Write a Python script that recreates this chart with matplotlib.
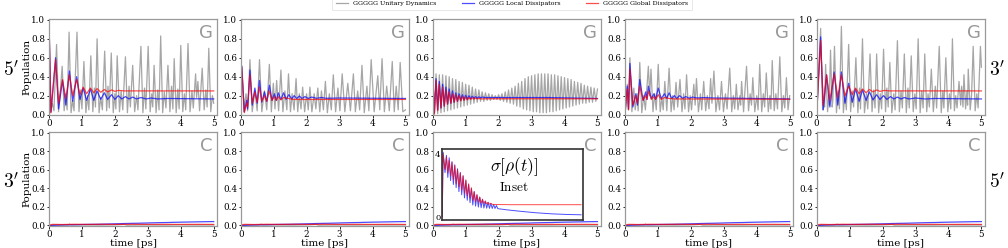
import numpy as np
import matplotlib
matplotlib.use('Agg')
import matplotlib.pyplot as plt
from matplotlib.lines import Line2D

plt.rcParams['font.family'] = ['DejaVu Serif']
plt.rcParams['mathtext.fontset'] = 'cm'

# ---- data (t [ps], population) ----
# top row, panel 1
unitary_1 = [(0.00, 1.00), (0.05, 0.02), (0.10, 0.12), (0.15, 0.04), (0.23, 0.74), (0.29, 0.03), (0.33, 0.18),
             (0.40, 0.51), (0.46, 0.04), (0.51, 0.22), (0.55, 0.05), (0.61, 0.87), (0.67, 0.02), (0.72, 0.15),
             (0.76, 0.04), (0.85, 0.87), (0.91, 0.03), (0.96, 0.26), (1.00, 0.06), (1.06, 0.56), (1.12, 0.02),
             (1.17, 0.20), (1.21, 0.05), (1.27, 0.62), (1.33, 0.03), (1.38, 0.28), (1.41, 0.08), (1.46, 0.80),
             (1.52, 0.02), (1.57, 0.18), (1.62, 0.05), (1.69, 0.67), (1.75, 0.04), (1.79, 0.30), (1.83, 0.07),
             (1.89, 0.65), (1.95, 0.02), (2.00, 0.22), (2.03, 0.06), (2.07, 0.62), (2.14, 0.03), (2.19, 0.25),
             (2.24, 0.05), (2.32, 0.61), (2.38, 0.02), (2.43, 0.30), (2.47, 0.08), (2.54, 0.52), (2.60, 0.03),
             (2.66, 0.20), (2.70, 0.05), (2.79, 0.72), (2.85, 0.02), (2.90, 0.28), (2.94, 0.06), (3.01, 0.72),
             (3.07, 0.03), (3.12, 0.22), (3.15, 0.08), (3.19, 0.52), (3.25, 0.02), (3.30, 0.26), (3.34, 0.05),
             (3.39, 0.83), (3.45, 0.02), (3.50, 0.24), (3.55, 0.07), (3.61, 0.52), (3.67, 0.03), (3.72, 0.30),
             (3.76, 0.06), (3.80, 0.59), (3.86, 0.02), (3.91, 0.27), (3.95, 0.06), (4.00, 0.73), (4.06, 0.03),
             (4.11, 0.22), (4.15, 0.05), (4.22, 0.75), (4.28, 0.03), (4.34, 0.25), (4.38, 0.07), (4.45, 0.43),
             (4.48, 0.18), (4.52, 0.35), (4.57, 0.04), (4.65, 0.49), (4.71, 0.05), (4.76, 0.26), (4.80, 0.08),
             (4.85, 0.70), (4.91, 0.03), (4.96, 0.20), (5.00, 0.12)]
local_1 = [(0.00, 1.00), (0.06, 0.03), (0.20, 0.60), (0.29, 0.06), (0.41, 0.36), (0.51, 0.10), (0.62, 0.46),
           (0.72, 0.14), (0.84, 0.40), (0.94, 0.16), (1.04, 0.28), (1.14, 0.15), (1.26, 0.27), (1.36, 0.15),
           (1.46, 0.25), (1.57, 0.16), (1.68, 0.23), (1.78, 0.16), (1.90, 0.21), (2.00, 0.16), (2.10, 0.20),
           (2.21, 0.165), (2.32, 0.19), (2.43, 0.165), (2.54, 0.185), (2.65, 0.165), (2.79, 0.18),
           (2.95, 0.165), (3.10, 0.175), (3.30, 0.165), (3.60, 0.17), (5.00, 0.165)]
global_1 = [(0.00, 1.00), (0.06, 0.02), (0.20, 0.58), (0.29, 0.12), (0.41, 0.37), (0.51, 0.17), (0.62, 0.42),
            (0.72, 0.20), (0.84, 0.37), (0.94, 0.21), (1.04, 0.29), (1.14, 0.22), (1.26, 0.28), (1.36, 0.23),
            (1.46, 0.275), (1.57, 0.235), (1.68, 0.265), (1.78, 0.24), (1.90, 0.26), (2.00, 0.245),
            (2.10, 0.255), (2.30, 0.25), (5.00, 0.25)]

# top row, panel 2
unitary_2 = [(0.00, 0.45), (0.04, 0.51), (0.10, 0.03), (0.16, 0.22), (0.21, 0.04), (0.28, 0.58), (0.35, 0.03),
             (0.43, 0.25), (0.50, 0.04), (0.57, 0.58), (0.64, 0.03), (0.72, 0.25), (0.79, 0.05), (0.87, 0.53),
             (0.93, 0.03), (0.99, 0.33), (1.04, 0.06), (1.09, 0.36), (1.15, 0.04), (1.22, 0.47), (1.28, 0.03),
             (1.34, 0.25), (1.40, 0.05), (1.45, 0.43), (1.51, 0.03), (1.56, 0.22), (1.62, 0.05), (1.68, 0.38),
             (1.73, 0.03), (1.78, 0.22), (1.83, 0.06), (1.88, 0.29), (1.94, 0.03), (2.00, 0.22), (2.05, 0.05),
             (2.10, 0.29), (2.16, 0.03), (2.23, 0.22), (2.28, 0.06), (2.34, 0.28), (2.40, 0.03), (2.45, 0.25),
             (2.51, 0.05), (2.57, 0.35), (2.63, 0.02), (2.69, 0.22), (2.75, 0.05), (2.81, 0.42), (2.88, 0.03),
             (2.95, 0.28), (3.01, 0.04), (3.08, 0.43), (3.16, 0.03), (3.25, 0.33), (3.33, 0.04), (3.42, 0.43),
             (3.48, 0.03), (3.55, 0.25), (3.61, 0.05), (3.68, 0.52), (3.75, 0.02), (3.83, 0.30), (3.89, 0.04),
             (3.96, 0.58), (4.05, 0.03), (4.16, 0.41), (4.22, 0.05), (4.29, 0.59), (4.36, 0.03), (4.43, 0.30),
             (4.51, 0.04), (4.60, 0.56), (4.66, 0.03), (4.72, 0.30), (4.78, 0.05), (4.84, 0.55), (4.92, 0.03),
             (5.00, 0.05)]
local_2 = [(0.00, 0.45), (0.03, 0.51), (0.11, 0.03), (0.18, 0.15), (0.21, 0.06), (0.28, 0.47), (0.35, 0.10),
           (0.43, 0.28), (0.50, 0.12), (0.57, 0.36), (0.64, 0.13), (0.72, 0.24), (0.79, 0.14), (0.87, 0.31),
           (0.95, 0.15), (1.02, 0.22), (1.08, 0.15), (1.14, 0.23), (1.22, 0.16), (1.30, 0.23), (1.38, 0.16),
           (1.46, 0.21), (1.55, 0.165), (1.62, 0.20), (1.70, 0.17), (1.78, 0.195), (1.86, 0.17), (1.95, 0.19),
           (2.05, 0.17), (2.15, 0.185), (2.30, 0.172), (2.45, 0.18), (2.60, 0.172), (3.00, 0.175), (5.00, 0.17)]
global_2 = [(0.00, 0.45), (0.03, 0.49), (0.11, 0.02), (0.18, 0.12), (0.21, 0.08), (0.28, 0.42), (0.35, 0.12),
            (0.43, 0.24), (0.50, 0.13), (0.57, 0.29), (0.64, 0.14), (0.72, 0.20), (0.79, 0.14), (0.87, 0.25),
            (0.95, 0.15), (1.02, 0.19), (1.08, 0.15), (1.14, 0.19), (1.22, 0.155), (1.30, 0.18), (1.60, 0.16),
            (5.00, 0.16)]

# top row, panel 3 (fast oscillation: maxima and minima)
unitary_3_max = [(0.0, 0.43), (0.1, 0.43), (0.2, 0.42), (0.3, 0.42), (0.4, 0.41), (0.5, 0.40), (0.6, 0.38),
                 (0.7, 0.37), (0.8, 0.35), (0.9, 0.34), (1.0, 0.32), (1.1, 0.31), (1.2, 0.29), (1.3, 0.27),
                 (1.4, 0.26), (1.5, 0.24), (1.6, 0.23), (1.7, 0.22), (1.8, 0.21), (1.9, 0.20), (2.0, 0.21),
                 (2.1, 0.22), (2.2, 0.24), (2.3, 0.26), (2.4, 0.28), (2.5, 0.30), (2.6, 0.33), (2.7, 0.35),
                 (2.8, 0.38), (2.9, 0.40), (3.0, 0.41), (3.1, 0.42), (3.2, 0.43), (3.3, 0.43), (3.4, 0.43),
                 (3.5, 0.43), (3.6, 0.42), (3.7, 0.42), (3.8, 0.41), (3.9, 0.40), (4.0, 0.39), (4.1, 0.38),
                 (4.2, 0.37), (4.3, 0.35), (4.4, 0.34), (4.5, 0.33), (4.6, 0.31), (4.7, 0.30), (4.8, 0.29),
                 (4.9, 0.28), (5.0, 0.27)]
unitary_3_min = [(0.05, 0.00), (0.15, 0.01), (0.25, 0.02), (0.35, 0.03), (0.45, 0.04), (0.55, 0.05),
                 (0.65, 0.06), (0.75, 0.07), (0.85, 0.08), (0.95, 0.09), (1.05, 0.10), (1.15, 0.11),
                 (1.25, 0.12), (1.35, 0.13), (1.45, 0.14), (1.55, 0.14), (1.65, 0.15), (1.75, 0.15),
                 (1.85, 0.16), (1.95, 0.16), (2.05, 0.15), (2.15, 0.14), (2.25, 0.13), (2.35, 0.12),
                 (2.45, 0.11), (2.55, 0.09), (2.65, 0.08), (2.75, 0.06), (2.85, 0.05), (2.95, 0.04),
                 (3.05, 0.03), (3.15, 0.03), (3.25, 0.02), (3.35, 0.02), (3.45, 0.02), (3.55, 0.03),
                 (3.65, 0.03), (3.75, 0.04), (3.85, 0.05), (3.95, 0.06), (4.05, 0.07), (4.15, 0.08),
                 (4.25, 0.09), (4.35, 0.10), (4.45, 0.11), (4.55, 0.12), (4.65, 0.12), (4.75, 0.13),
                 (4.85, 0.13), (4.95, 0.14)]
local_3 = [(0.00, 0.42), (0.05, 0.02), (0.10, 0.38), (0.15, 0.05), (0.20, 0.35), (0.25, 0.07), (0.30, 0.32),
           (0.35, 0.09), (0.40, 0.29), (0.45, 0.11), (0.50, 0.27), (0.55, 0.12), (0.60, 0.25), (0.65, 0.13),
           (0.70, 0.23), (0.75, 0.14), (0.80, 0.22), (0.85, 0.15), (0.90, 0.21), (0.95, 0.155), (1.00, 0.205),
           (1.05, 0.16), (1.10, 0.20), (1.15, 0.165), (1.20, 0.195), (1.25, 0.17), (1.30, 0.19),
           (1.35, 0.172), (1.40, 0.188), (1.45, 0.175), (1.50, 0.185), (1.60, 0.18), (3.50, 0.18),
           (5.00, 0.17)]
global_3 = [(0.00, 0.40), (0.05, 0.01), (0.10, 0.36), (0.15, 0.04), (0.20, 0.32), (0.25, 0.07), (0.30, 0.29),
            (0.35, 0.09), (0.40, 0.26), (0.45, 0.11), (0.50, 0.24), (0.55, 0.12), (0.60, 0.22), (0.65, 0.13),
            (0.70, 0.21), (0.75, 0.14), (0.80, 0.20), (0.85, 0.145), (0.90, 0.19), (0.95, 0.15), (1.00, 0.185),
            (1.05, 0.155), (1.10, 0.18), (1.15, 0.16), (1.20, 0.178), (1.25, 0.162), (1.30, 0.175),
            (1.35, 0.164), (1.40, 0.172), (1.45, 0.165), (1.60, 0.167), (5.00, 0.167)]

# top row, panel 4
unitary_4 = [(0.00, 0.00), (0.07, 0.32), (0.10, 0.05), (0.15, 0.60), (0.21, 0.03), (0.27, 0.28), (0.31, 0.05),
             (0.37, 0.22), (0.40, 0.04), (0.45, 0.55), (0.51, 0.02), (0.57, 0.20), (0.62, 0.05), (0.71, 0.51),
             (0.75, 0.20), (0.79, 0.48), (0.85, 0.03), (0.90, 0.22), (0.95, 0.05), (1.01, 0.53), (1.07, 0.03),
             (1.12, 0.18), (1.16, 0.05), (1.21, 0.35), (1.27, 0.04), (1.34, 0.49), (1.40, 0.03), (1.45, 0.20),
             (1.49, 0.05), (1.55, 0.34), (1.60, 0.08), (1.67, 0.37), (1.73, 0.03), (1.78, 0.22), (1.82, 0.06),
             (1.87, 0.42), (1.93, 0.03), (1.98, 0.20), (2.02, 0.05), (2.09, 0.32), (2.13, 0.10), (2.17, 0.38),
             (2.23, 0.03), (2.29, 0.22), (2.33, 0.05), (2.39, 0.35), (2.45, 0.04), (2.50, 0.20), (2.55, 0.06),
             (2.60, 0.38), (2.64, 0.12), (2.70, 0.46), (2.76, 0.03), (2.82, 0.20), (2.87, 0.05), (2.93, 0.35),
             (2.99, 0.03), (3.05, 0.22), (3.10, 0.06), (3.18, 0.49), (3.24, 0.03), (3.29, 0.20), (3.33, 0.06),
             (3.38, 0.32), (3.43, 0.05), (3.49, 0.20), (3.51, 0.10), (3.54, 0.35), (3.60, 0.03), (3.69, 0.51),
             (3.75, 0.04), (3.80, 0.22), (3.84, 0.10), (3.88, 0.39), (3.94, 0.03), (4.00, 0.20), (4.04, 0.05),
             (4.09, 0.53), (4.15, 0.03), (4.20, 0.22), (4.24, 0.08), (4.29, 0.44), (4.35, 0.03), (4.40, 0.20),
             (4.43, 0.06), (4.47, 0.57), (4.53, 0.04), (4.58, 0.22), (4.63, 0.06), (4.70, 0.61), (4.76, 0.03),
             (4.81, 0.20), (4.85, 0.07), (4.90, 0.39), (4.95, 0.05), (5.00, 0.20)]
local_4 = [(0.00, 0.00), (0.07, 0.30), (0.11, 0.06), (0.15, 0.54), (0.24, 0.08), (0.33, 0.22), (0.38, 0.10),
           (0.45, 0.37), (0.55, 0.15), (0.63, 0.24), (0.67, 0.16), (0.71, 0.30), (0.80, 0.17), (0.88, 0.22),
           (0.93, 0.16), (1.01, 0.28), (1.10, 0.17), (1.20, 0.22), (1.27, 0.17), (1.34, 0.23), (1.42, 0.17),
           (1.50, 0.20), (1.57, 0.17), (1.66, 0.20), (1.75, 0.172), (1.85, 0.19), (1.95, 0.172), (2.05, 0.185),
           (2.20, 0.175), (2.40, 0.18), (2.70, 0.175), (3.50, 0.172), (5.00, 0.165)]
global_4 = [(0.00, 0.00), (0.07, 0.27), (0.11, 0.05), (0.15, 0.48), (0.24, 0.10), (0.33, 0.20), (0.38, 0.12),
            (0.45, 0.30), (0.55, 0.15), (0.63, 0.20), (0.67, 0.16), (0.71, 0.25), (0.80, 0.16), (0.88, 0.19),
            (0.93, 0.16), (1.01, 0.21), (1.10, 0.16), (1.20, 0.18), (1.34, 0.17), (1.50, 0.165), (5.00, 0.162)]

# top row, panel 5
unitary_5 = [(0.00, 0.00), (0.12, 0.91), (0.18, 0.05), (0.22, 0.15), (0.24, 0.08), (0.27, 0.53), (0.33, 0.03),
             (0.37, 0.20), (0.38, 0.10), (0.42, 0.68), (0.47, 0.08), (0.49, 0.15), (0.54, 0.72), (0.60, 0.02),
             (0.65, 0.25), (0.69, 0.06), (0.75, 0.93), (0.81, 0.02), (0.86, 0.22), (0.90, 0.05), (0.97, 0.74),
             (1.03, 0.03), (1.08, 0.25), (1.12, 0.08), (1.19, 0.60), (1.25, 0.02), (1.30, 0.28), (1.33, 0.06),
             (1.39, 0.80), (1.45, 0.02), (1.51, 0.22), (1.55, 0.06), (1.62, 0.64), (1.68, 0.03), (1.73, 0.26),
             (1.77, 0.07), (1.82, 0.64), (1.88, 0.02), (1.93, 0.22), (1.97, 0.06), (2.03, 0.69), (2.09, 0.03),
             (2.13, 0.28), (2.17, 0.08), (2.22, 0.55), (2.28, 0.02), (2.34, 0.22), (2.38, 0.05), (2.45, 0.78),
             (2.51, 0.03), (2.56, 0.25), (2.60, 0.07), (2.66, 0.64), (2.72, 0.02), (2.77, 0.28), (2.81, 0.07),
             (2.87, 0.62), (2.93, 0.03), (2.98, 0.22), (3.02, 0.06), (3.08, 0.80), (3.14, 0.02), (3.19, 0.25),
             (3.23, 0.07), (3.28, 0.64), (3.34, 0.03), (3.38, 0.22), (3.42, 0.08), (3.48, 0.48), (3.54, 0.03),
             (3.60, 0.30), (3.64, 0.07), (3.72, 0.72), (3.78, 0.02), (3.83, 0.25), (3.86, 0.07), (3.92, 0.60),
             (3.98, 0.03), (4.03, 0.22), (4.07, 0.06), (4.12, 0.80), (4.18, 0.04), (4.22, 0.20), (4.26, 0.07),
             (4.32, 0.35), (4.37, 0.10), (4.40, 0.30), (4.44, 0.08), (4.47, 0.42), (4.52, 0.06), (4.56, 0.25),
             (4.58, 0.10), (4.60, 0.48), (4.66, 0.05), (4.70, 0.20), (4.75, 0.72), (4.81, 0.04), (4.86, 0.22),
             (4.90, 0.07), (4.97, 0.72), (5.00, 0.50)]
local_5 = [(0.00, 0.00), (0.12, 0.82), (0.20, 0.05), (0.30, 0.42), (0.40, 0.08), (0.53, 0.45), (0.64, 0.10),
           (0.75, 0.45), (0.86, 0.12), (0.97, 0.33), (1.08, 0.13), (1.18, 0.27), (1.29, 0.14), (1.39, 0.26),
           (1.50, 0.15), (1.60, 0.24), (1.71, 0.155), (1.82, 0.21), (1.92, 0.16), (2.03, 0.20), (2.13, 0.16),
           (2.24, 0.19), (2.34, 0.165), (2.45, 0.185), (2.56, 0.165), (2.66, 0.18), (2.80, 0.165),
           (3.00, 0.175), (3.30, 0.165), (3.60, 0.17), (5.00, 0.165)]
global_5 = [(0.00, 0.00), (0.12, 0.78), (0.20, 0.10), (0.30, 0.42), (0.40, 0.15), (0.53, 0.43), (0.64, 0.18),
            (0.75, 0.42), (0.86, 0.20), (0.97, 0.30), (1.08, 0.21), (1.18, 0.28), (1.29, 0.22), (1.39, 0.27),
            (1.50, 0.23), (1.60, 0.265), (1.71, 0.24), (1.82, 0.26), (1.92, 0.245), (2.05, 0.255),
            (2.20, 0.25), (5.00, 0.25)]

# bottom row (same shape in every column)
unitary_c = [(0.00, 0.000), (0.30, 0.006), (0.60, 0.004), (0.62, 0.015), (0.65, 0.004), (1.00, 0.006),
             (1.50, 0.004), (2.00, 0.007), (2.30, 0.012), (2.35, 0.004), (3.00, 0.006), (3.50, 0.004),
             (4.00, 0.007), (4.50, 0.005), (5.00, 0.006)]
local_c = [(0.00, 0.000), (0.30, 0.004), (0.60, 0.008), (0.90, 0.009), (1.20, 0.012), (1.50, 0.013),
           (1.80, 0.016), (2.10, 0.019), (2.40, 0.022), (2.70, 0.024), (3.00, 0.027), (3.30, 0.030),
           (3.60, 0.032), (3.90, 0.035), (4.20, 0.037), (4.50, 0.039), (4.80, 0.041), (5.00, 0.042)]
global_c = [(0.00, 0.000), (0.10, 0.012), (0.40, 0.010), (0.80, 0.013), (1.20, 0.011), (1.60, 0.013),
            (2.00, 0.011), (2.50, 0.013), (3.00, 0.011), (3.50, 0.012), (4.00, 0.011), (4.50, 0.012),
            (5.00, 0.011)]

# inset sigma[rho(t)] (maxima / minima of the fast wiggle, then the slow tail)
inset_global = [(0.00, 0.00), (0.03, 4.00), (0.10, 3.00), (0.15, 3.80), (0.20, 2.80), (0.25, 3.60), (0.30, 2.60),
                (0.35, 3.45), (0.40, 2.35), (0.45, 3.25), (0.50, 2.10), (0.55, 3.00), (0.60, 1.90), (0.65, 2.80),
                (0.70, 1.70), (0.75, 2.60), (0.80, 1.50), (0.85, 2.35), (0.90, 1.35), (0.95, 2.10), (1.00, 1.20),
                (1.05, 1.85), (1.10, 1.05), (1.15, 1.60), (1.20, 0.98), (1.25, 1.40), (1.30, 0.92), (1.35, 1.25),
                (1.40, 0.88), (1.45, 1.10), (1.50, 0.84), (1.55, 1.00), (1.60, 0.82), (1.65, 0.92), (1.70, 0.80),
                (1.75, 0.86), (1.80, 0.79), (2.00, 0.78), (2.50, 0.77), (5.00, 0.77)]
inset_local = [(0.00, 0.00), (0.03, 4.10), (0.10, 2.80), (0.15, 3.90), (0.20, 2.50), (0.25, 3.75), (0.30, 2.30),
               (0.35, 3.50), (0.40, 2.05), (0.45, 3.30), (0.50, 1.85), (0.55, 3.05), (0.60, 1.60), (0.65, 2.80),
               (0.70, 1.40), (0.75, 2.60), (0.80, 1.20), (0.85, 2.30), (0.90, 1.05), (0.95, 2.05), (1.00, 0.90),
               (1.05, 1.80), (1.10, 0.75), (1.15, 1.60), (1.20, 0.68), (1.25, 1.40), (1.30, 0.62), (1.35, 1.25),
               (1.40, 0.58), (1.45, 1.12), (1.50, 0.56), (1.55, 1.00), (1.60, 0.55), (1.65, 0.92), (1.70, 0.54),
               (1.75, 0.85), (1.80, 0.53), (1.85, 0.78), (1.90, 0.53), (1.95, 0.72), (2.00, 0.52), (2.30, 0.45),
               (2.77, 0.36), (3.36, 0.26), (3.95, 0.19), (4.50, 0.15), (5.00, 0.13)]

top_series = [
    (unitary_1, local_1, global_1),
    (unitary_2, local_2, global_2),
    (sorted(unitary_3_max + unitary_3_min), local_3, global_3),
    (unitary_4, local_4, global_4),
    (unitary_5, local_5, global_5),
]
left_labels = [r"$5'$", r"$3'$"]
right_labels = [r"$3'$", r"$5'$"]
legend_labels = ['GGGGG Unitary Dynamics', 'GGGGG Local Dissipators', 'GGGGG Global Dissipators']
row_letters = ['G', 'C']

colors = ['gray', 'blue', 'red']
alpha = 0.7


def xy(series):
    arr = np.array(series)
    return arr[:, 0], arr[:, 1]


def style_axes(ax):
    ax.set_xlim(0, 5.1)
    ax.set_ylim(-0.005, 1.005)
    ax.set_xticks([0, 1, 2, 3, 4, 5])
    ax.set_yticks([0.0, 0.2, 0.4, 0.6, 0.8, 1.0])
    ax.tick_params(labelsize=6.3, length=1.8, width=0.6, pad=0.8)
    for s in ax.spines.values():
        s.set_color('#999999')
        s.set_linewidth(0.9)


fig = plt.figure(figsize=(10.08, 2.48), dpi=100)
lefts = [0.0486, 0.2388, 0.4293, 0.6200, 0.8102]
width = 0.1667
rows = [(0.536, 0.386), (0.089, 0.377)]

for r, (bottom, height) in enumerate(rows):
    for c, left in enumerate(lefts):
        ax = fig.add_axes([left, bottom, width, height])
        if r == 0:
            group = top_series[c]
        else:
            group = (unitary_c, local_c, global_c)
        for series, col in zip(group, colors):
            t, v = xy(series)
            ax.plot(t, v, color=col, alpha=alpha, lw=0.9)
        style_axes(ax)
        ax.text(0.975, 0.95, row_letters[r], transform=ax.transAxes, ha='right', va='top',
                fontsize=13, color='#999999', family='DejaVu Sans')
        if c == 0:
            ax.set_ylabel('Population', fontsize=7.5)
            ax.yaxis.set_label_coords(-0.105, 0.5)
        if r == 1:
            ax.set_xlabel('time [ps]', fontsize=7.5, labelpad=0)

# inset in the middle bottom panel
axin = fig.add_axes([0.4382, 0.1129, 0.1402, 0.2863])
for series, col in zip((inset_local, inset_global), ('blue', 'red')):
    t, v = xy(series)
    axin.plot(t, v, color=col, alpha=alpha, lw=0.7)
axin.set_xlim(-0.02, 5.07)
axin.set_ylim(-0.2, 4.3)
axin.set_xticks([])
axin.set_yticks([0, 4])
axin.tick_params(labelsize=6, length=0, pad=1)
for s in axin.spines.values():
    s.set_color('#333333')
    s.set_linewidth(1.2)
axin.text(0.51, 0.75, r'$\sigma[\rho(t)]$', transform=axin.transAxes, ha='center', va='center', fontsize=12.5)
axin.text(0.51, 0.46, r'$\mathrm{Inset}$', transform=axin.transAxes, ha='center', va='center', fontsize=9.5)

# side labels
for y, lab_l, lab_r in zip([0.718, 0.266], left_labels, right_labels):
    fig.text(0.011, y, lab_l, fontsize=14, ha='center', va='center')
    fig.text(0.9895, y, lab_r, fontsize=14, ha='center', va='center')

handles = [Line2D([], [], color=c, alpha=alpha, lw=0.9) for c in colors]
leg = fig.legend(handles, legend_labels, loc='upper center', bbox_to_anchor=(0.508, 1.025), ncol=3,
                 fontsize=4.5, columnspacing=4.0, handlelength=2.0, borderpad=0.6, frameon=True,
                 fancybox=False)
leg.get_frame().set_edgecolor('#dddddd')
leg.get_frame().set_linewidth(0.6)

fig.savefig('out.png', dpi=100)
